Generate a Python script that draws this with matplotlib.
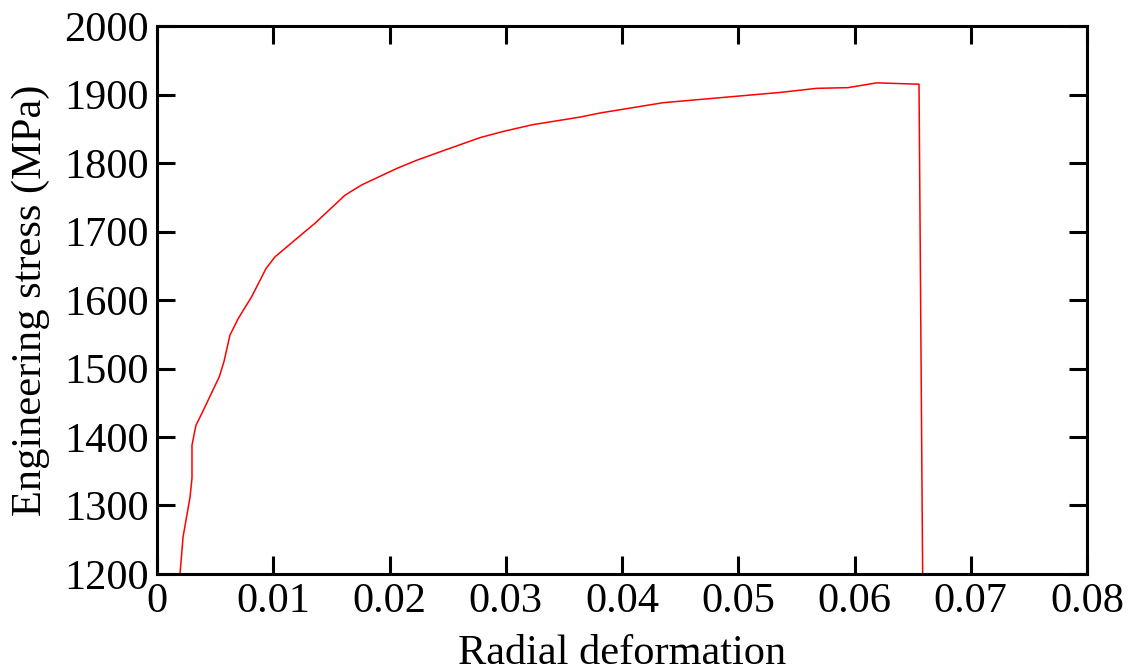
import matplotlib
matplotlib.use("Agg")
import matplotlib.pyplot as plt

strain = [0.00198, 0.00224, 0.00284, 0.00301, 0.00301, 0.00335, 0.00393, 0.00536,
          0.00576, 0.00628, 0.00699, 0.00815, 0.00938, 0.01015, 0.01288, 0.01359,
          0.01617, 0.01761, 0.02062, 0.02234, 0.02463, 0.02778, 0.02976, 0.03234,
          0.03639, 0.03811, 0.04353, 0.05359, 0.05675, 0.05944, 0.06191, 0.06555,
          0.06595]
stress = [1200, 1254, 1312, 1340, 1388, 1417, 1437, 1488,
          1510, 1549, 1573, 1605, 1646, 1663, 1702, 1712,
          1753, 1768, 1792, 1804, 1818, 1837, 1846, 1856,
          1867, 1873, 1888, 1903, 1909, 1910, 1917, 1915,
          1000]
xticks = [0, 0.01, 0.02, 0.03, 0.04, 0.05, 0.06, 0.07, 0.08]
xticklabels = ["0", "0.01", "0.02", "0.03", "0.04", "0.05", "0.06", "0.07", "0.08"]
yticks = [1200, 1300, 1400, 1500, 1600, 1700, 1800, 1900, 2000]

plt.rcParams['font.family'] = ['Liberation Serif', 'DejaVu Serif']

fig = plt.figure(figsize=(11.36, 6.66), dpi=100)
ax = fig.add_axes([157/1136, 1 - 574/666, (1087-157)/1136, (574-26)/666])
ax.plot(strain, stress, color='red', lw=1.1)
ax.set_xlim(0, 0.08)
ax.set_ylim(1200, 2000)
ax.set_xticks(xticks)
ax.set_xticklabels(xticklabels)
ax.set_yticks(yticks)
ax.tick_params(direction='in', length=13, width=2.2, labelsize=30.5,
               top=True, right=True, pad=6)
for s in ax.spines.values():
    s.set_linewidth(2.2)
ax.set_xlabel("Radial deformation", fontsize=30.5, labelpad=10)
ax.set_ylabel("Engineering stress (MPa)", fontsize=30.5, labelpad=10)
fig.savefig("out.png", dpi=100)
